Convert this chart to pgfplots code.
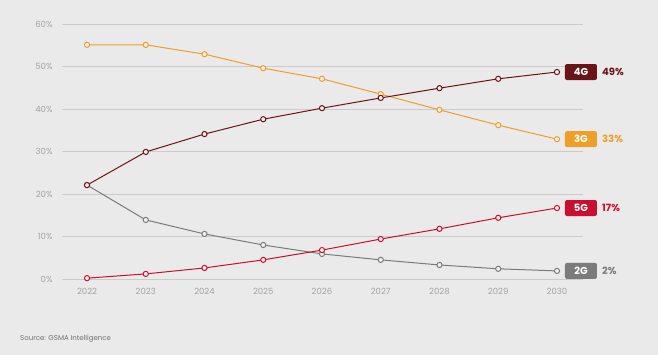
\documentclass[border=0pt]{standalone}
\usepackage{pgfplots}
\pgfplotsset{compat=1.18}
\usepackage{fontspec}
\setmainfont{Poppins}
\definecolor{bg}{HTML}{EAEAEA}
\definecolor{gridc}{HTML}{CBCBCB}
\definecolor{tickc}{HTML}{A3A3A3}
\definecolor{c4g}{HTML}{6A1418}
\definecolor{c3g}{HTML}{EE9F27}
\definecolor{c5g}{HTML}{C8102E}
\definecolor{c2g}{HTML}{7B7B7B}
\begin{document}
\begin{tikzpicture}
\useasboundingbox (0pt,0pt) rectangle (658pt,355pt);
\fill[bg] (0pt,0pt) rectangle (658pt,355pt);
\node[anchor=west,text=c2g!90!black,font=\fontsize{7}{8}\selectfont,inner sep=0pt] at (20pt,16pt) {Source: GSMA Intelligence};
\begin{axis}[
  at={(62pt,76pt)}, anchor=south west,
  scale only axis, width=521pt, height=255pt,
  xmin=2021.574, xmax=2030.443,
  ymin=0, ymax=60,
  axis line style={draw=none},
  tick style={draw=none},
  ymajorgrids, xmajorgrids=false, grid style={draw=gridc, line width=0.8pt},
  xtick={2022,...,2030},
  ytick={0,10,...,60},
  yticklabel={\pgfmathprintnumber{\tick}\%},
  /pgf/number format/assume math mode=true,
  xticklabel style={/pgf/number format/1000 sep={}, text=tickc, font=\fontsize{8.5}{9}\selectfont, yshift=-6pt},
  yticklabel style={text=tickc, font=\fontsize{8.5}{9}\selectfont, xshift=-6pt},
  clip=false,
  every axis plot/.append style={line width=1pt, mark=*, mark size=2.6pt, mark options={fill=bg!60!white, line width=1pt}},
]
\addplot[c3g] coordinates {(2022,55.1)(2023,55.1)(2024,52.9)(2025,49.6)(2026,47.1)(2027,43.5)(2028,39.8)(2029,36.2)(2030,32.9)};
\addplot[c2g] coordinates {(2022,22.1)(2023,13.9)(2024,10.6)(2025,8.0)(2026,5.9)(2027,4.5)(2028,3.3)(2029,2.4)(2030,1.9)};
\addplot[c5g] coordinates {(2022,0.2)(2023,1.2)(2024,2.6)(2025,4.5)(2026,6.8)(2027,9.4)(2028,11.8)(2029,14.4)(2030,16.7)};
\addplot[c4g] coordinates {(2022,22.1)(2023,29.9)(2024,34.1)(2025,37.6)(2026,40.2)(2027,42.6)(2028,44.9)(2029,47.1)(2030,48.7)};
\tikzset{lab/.style={rounded corners=2pt, minimum width=32pt, minimum height=16pt, inner sep=0pt, text=white, font=\fontsize{10}{11}\selectfont\bfseries, xshift=24pt},
         pct/.style={anchor=west, inner sep=0pt, font=\fontsize{10}{11}\selectfont\bfseries, xshift=45pt}}
\node[lab, fill=c4g] at (axis cs:2030,48.7) {4G};
\node[pct, text=c4g] at (axis cs:2030,48.7) {49\%};
\node[lab, fill=c3g] at (axis cs:2030,32.9) {3G};
\node[pct, text=c3g] at (axis cs:2030,32.9) {33\%};
\node[lab, fill=c5g] at (axis cs:2030,16.7) {5G};
\node[pct, text=c5g] at (axis cs:2030,16.7) {17\%};
\node[lab, fill=c2g] at (axis cs:2030,1.9) {2G};
\node[pct, text=c2g] at (axis cs:2030,1.9) {2\%};
\end{axis}
\end{tikzpicture}
\end{document}
